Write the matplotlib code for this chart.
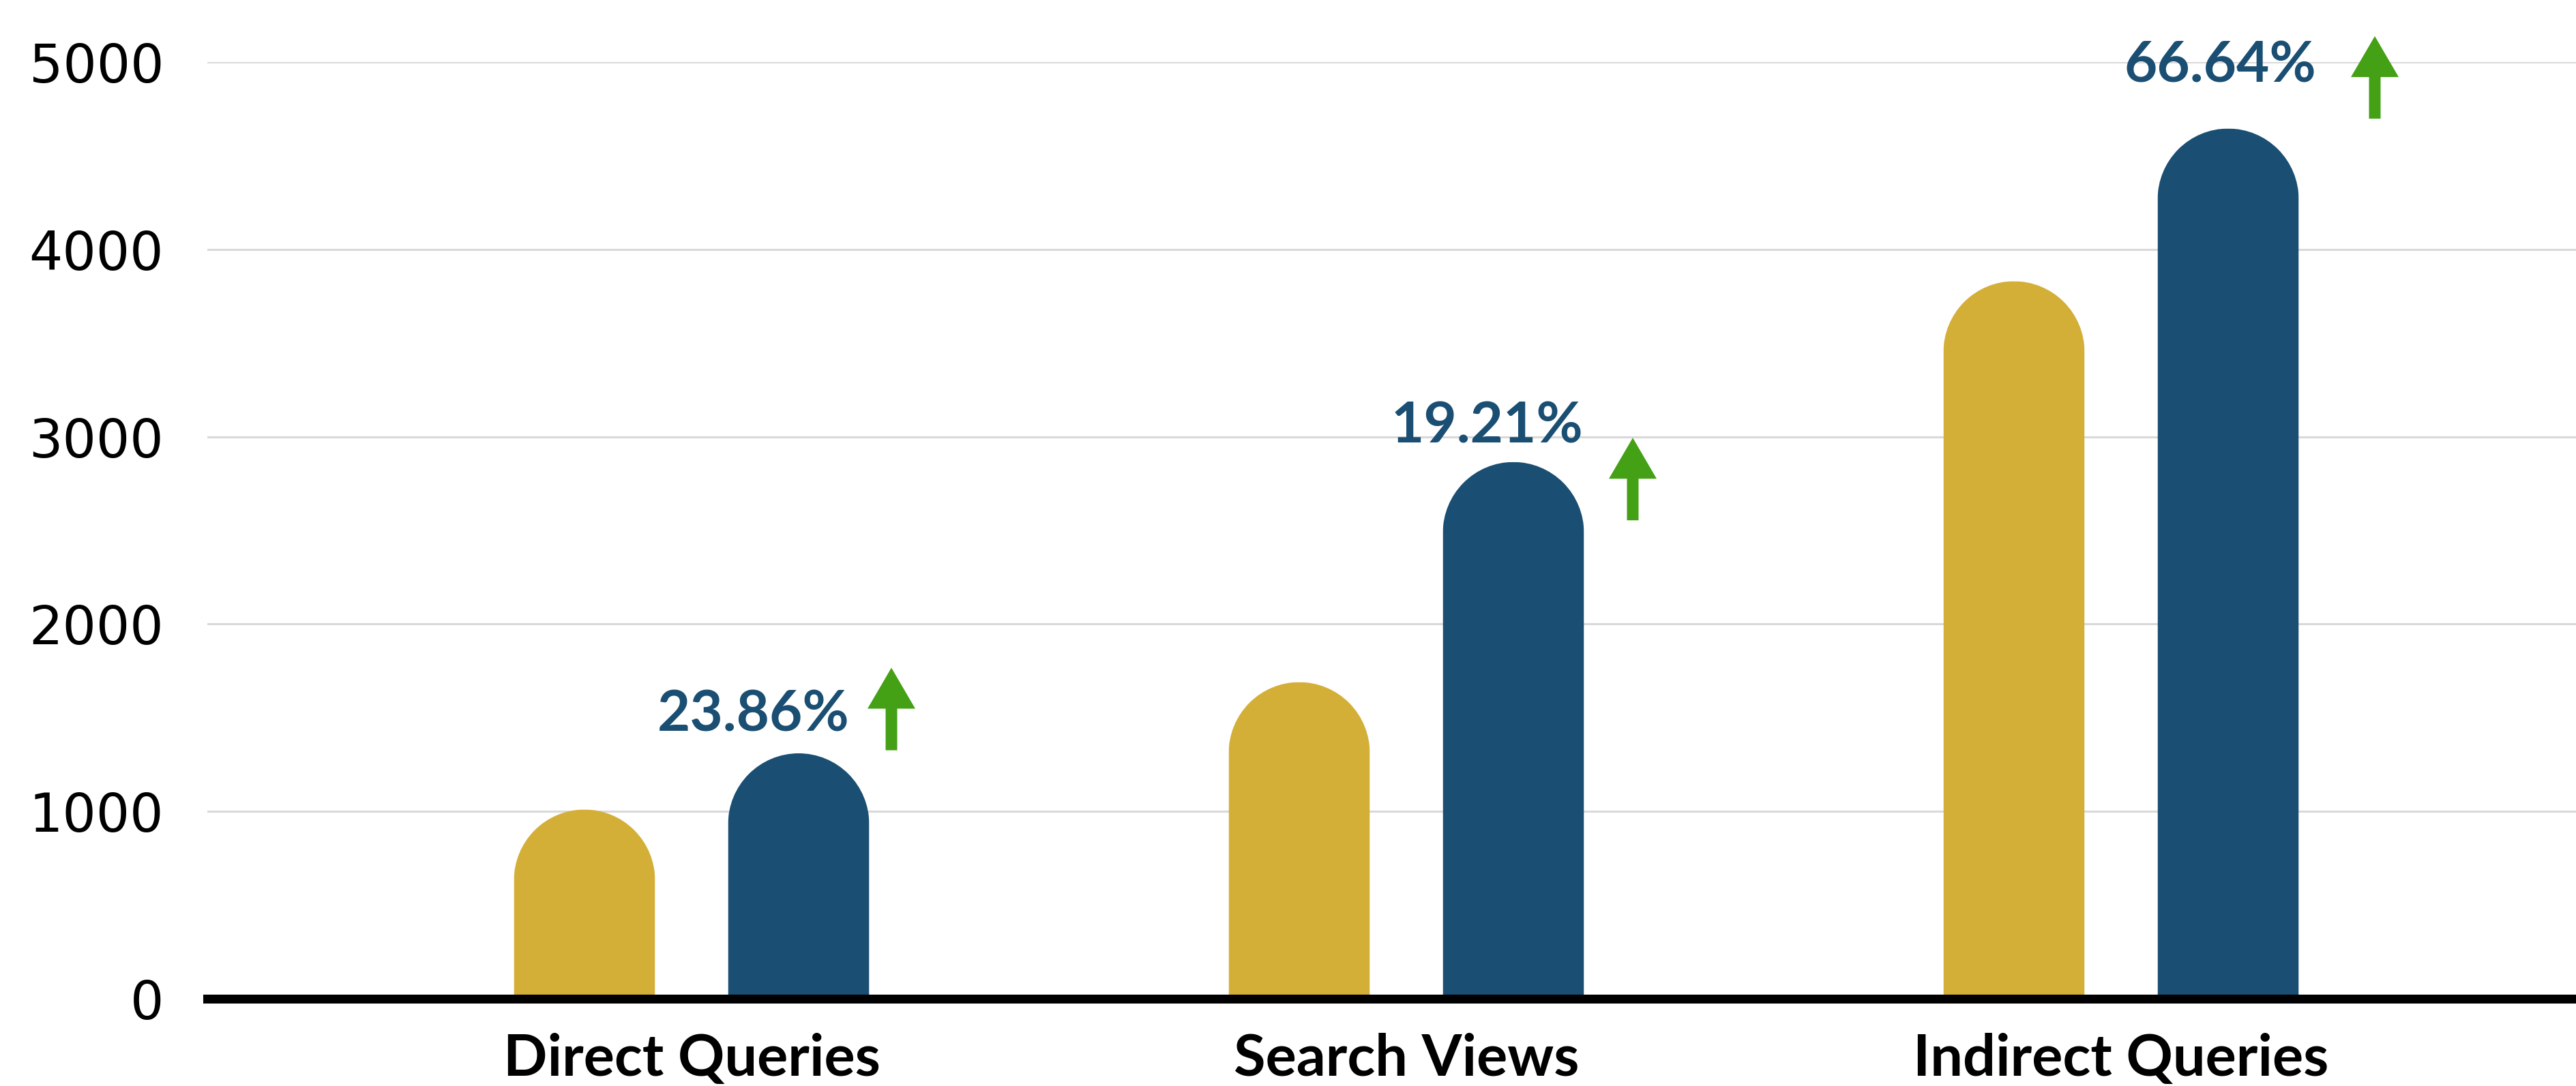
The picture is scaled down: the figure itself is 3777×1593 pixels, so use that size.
import matplotlib
matplotlib.use("Agg")
import matplotlib.pyplot as plt
import numpy as np
from matplotlib.patches import Polygon, PathPatch
from matplotlib.path import Path
import matplotlib.transforms as mtransforms

# ---- data ----
categories = ["Direct Queries", "Search Views", "Indirect Queries"]
previous = [1010, 1690, 3830]
current = [1310, 2865, 4645]
growth_labels = ["23.86%", "19.21%", "66.64%"]
y_ticks = [0, 1000, 2000, 3000, 4000, 5000]

# ---- style ----
GOLD = "#d4af37"
NAVY = "#1a4e72"
GREEN = "#44a015"
GRID = "#d9d9d9"

W, H, DPI = 3777, 1593, 100
fig = plt.figure(figsize=(W / DPI, H / DPI), dpi=DPI)
ax_left_px, ax_right_px = 304, 3777
ax_bottom_px, ax_top_px = 1465, 91
ax = fig.add_axes([ax_left_px / W, (H - ax_bottom_px) / H,
                   (ax_right_px - ax_left_px) / W, (ax_bottom_px - ax_top_px) / H])
ax.set_ylim(0, 5000)
group_px = 1048
xleft = -(1014 - 304) / group_px
ax.set_xlim(xleft, xleft + (ax_right_px - ax_left_px) / group_px)

bar_w = 207 / group_px
off = 157 / group_px
px_per_unit_y = (ax_bottom_px - ax_top_px) / 5000
dome_px = 104
dome_h = dome_px / px_per_unit_y


def rounded_top_path(rect):
    """Outline of a bar rectangle whose top is a half-ellipse."""
    x0, y0 = rect.get_x(), rect.get_y()
    w, h = rect.get_width(), rect.get_height()
    cx, base = x0 + w / 2, y0 + h - dome_h
    arc = Path.arc(0, 180)
    verts = [(x0, y0 - 50), (x0 + w, y0 - 50), (x0 + w, base)]
    codes = [Path.MOVETO, Path.LINETO, Path.LINETO]
    for (vx, vy), c in zip(arc.vertices[1:], arc.codes[1:]):
        verts.append((cx + vx * w / 2, base + vy * dome_h))
        codes.append(c)
    verts += [(x0, y0 - 50), (x0, y0 - 50)]
    codes += [Path.LINETO, Path.CLOSEPOLY]
    return Path(verts, codes)


x = np.arange(len(categories))
for xs, vals, color in [(x - off, previous, GOLD), (x + off, current, NAVY)]:
    bars = ax.bar(xs, vals, width=bar_w, color=color, zorder=2, linewidth=0)
    for r in bars:
        r.set_snap(False)
        clip = PathPatch(rounded_top_path(r), transform=ax.transData)
        r.set_clip_path(clip)

ax.set_yticks(y_ticks)
ax.yaxis.grid(True, color=GRID, linewidth=2.2, zorder=0)
ax.set_axisbelow(True)
ax.axhline(0, color="black", linewidth=9.4, zorder=3, clip_on=False)
for s in ax.spines.values():
    s.set_visible(False)

ax.tick_params(axis="y", length=0, pad=46, labelsize=56)
for t in ax.get_yticklabels():
    t.set_fontfamily("DejaVu Sans")

ax.set_xticks(x)
ax.set_xticklabels(categories, fontfamily="Lato", fontweight="bold", fontsize=61)
ax.tick_params(axis="x", length=0, pad=36)

# growth labels and arrows
label_offsets_px = [(-66, 33), (-39, 28), (-12, 68)]
arrow_offsets_px = [(136, 65), (175, -25), (215, 75)]
arrow_shape_px = [(0, 60.5), (35, 0.5), (8.5, 0.5), (8.5, -60.5),
                  (-8.5, -60.5), (-8.5, 0.5), (-35, 0.5)]
for xi, top, lab, (ldx, ldy), (adx, ady) in zip(x + off, current, growth_labels,
                                                label_offsets_px, arrow_offsets_px):
    ax.annotate(lab, xy=(xi, top), xytext=(ldx, ldy), textcoords="offset pixels",
                ha="center", va="baseline", color=NAVY, fontsize=60,
                fontfamily="Lato", fontweight="bold", annotation_clip=False)
    trans = fig.dpi_scale_trans + mtransforms.ScaledTranslation(xi, top, ax.transData)
    verts = [((vx + adx) / DPI, (vy + ady) / DPI) for vx, vy in arrow_shape_px]
    ax.add_patch(Polygon(verts, closed=True, transform=trans, facecolor=GREEN,
                         edgecolor="none", clip_on=False, zorder=4))

fig.savefig("out.png", dpi=DPI, facecolor="white")
